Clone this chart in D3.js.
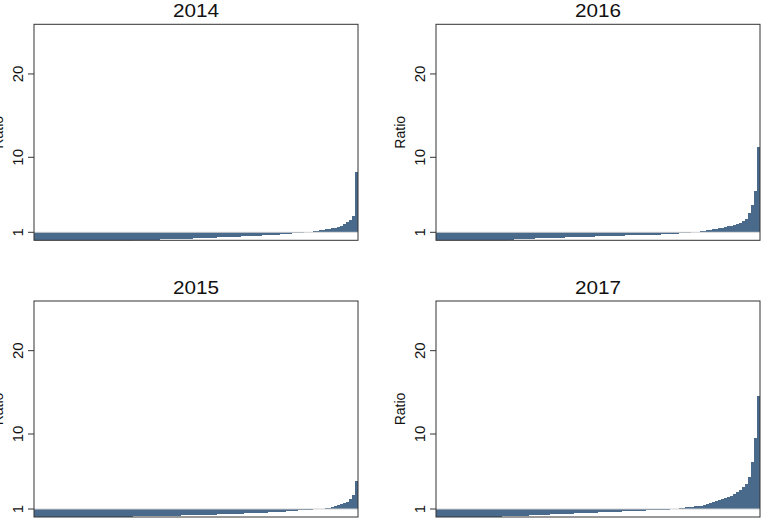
<!DOCTYPE html>
<html>
<head>
<meta charset="utf-8">
<script src="https://cdn.jsdelivr.net/npm/d3@7"></script>
<style>
  body { margin: 0; background: #fff; }
  svg { display: block; font-family: "Liberation Sans", Arial, sans-serif; }
</style>
</head>
<body>
<svg id="chart" width="766" height="528"></svg>
<script>
// sorted ratios per year (one value per bar)
const years = ["2014", "2016", "2015", "2017"];
const yTicks = [1, 10, 20];

const ratio2014 = [
  0,0,0,0,0,0,0,0,0,0,0,0,0,0,0,0,0,0,0,0,0,0,0,0,0,0,0,0,0,0,0,0,0,
  0.08,0.08,0.1,0.1,0.11,0.12,0.12,0.13,0.13,0.14,0.14,0.15,0.17,0.18,0.2,0.21,
  0.22,0.23,0.24,0.25,0.26,0.27,0.28,0.3,0.31,0.33,0.35,0.36,0.38,0.39,0.41,0.43,
  0.44,0.46,0.47,0.49,0.5,0.52,0.54,0.56,0.58,0.6,0.61,0.63,0.65,0.67,0.68,0.7,
  0.72,0.74,0.77,0.8,0.83,0.86,0.89,0.92,0.95,0.98,1.01,1.05,1.12,1.2,1.24,1.28,
  1.34,1.4,1.48,1.56,1.65,1.8,1.95,2.2,2.5,3.0,8.2
];
const ratio2016 = [
  0,0,0,0,0,0,0,0,0,0,0,0,0,0,0,0,0,0,0,0,0,0,0,0,
  0.12,0.13,0.15,0.17,0.18,0.2,0.21,0.23,0.24,0.26,0.27,0.28,0.3,0.31,0.32,0.33,
  0.35,0.36,0.37,0.38,0.39,0.4,0.42,0.43,0.44,0.45,0.46,0.47,0.49,0.5,0.51,0.52,
  0.53,0.54,0.56,0.57,0.58,0.6,0.61,0.62,0.63,0.64,0.65,0.66,0.67,0.68,0.69,0.7,
  0.71,0.72,0.73,0.75,0.76,0.78,0.8,0.82,0.85,0.88,0.91,0.94,0.97,0.99,1.01,1.04,
  1.1,1.2,1.25,1.3,1.36,1.42,1.5,1.57,1.62,1.7,1.78,1.85,1.95,2.1,2.3,2.65,
  3.3,4.3,6.0,11.2
];
const ratio2015 = [
  0,0,0,0,0,0,0,0,0,0,0,0,0,0,0,0,0,0,0,0,0,0,
  0.05,0.06,0.06,0.07,0.07,0.08,0.08,0.09,0.09,0.1,0.1,0.11,0.11,0.12,0.12,0.13,
  0.13,0.14,0.14,0.15,0.16,0.17,0.18,0.19,0.2,0.21,0.22,0.23,0.24,0.25,0.26,0.27,
  0.28,0.29,0.3,0.31,0.32,0.33,0.34,0.35,0.36,0.38,0.39,0.4,0.41,0.43,0.44,0.45,
  0.47,0.48,0.5,0.51,0.52,0.54,0.55,0.57,0.59,0.61,0.63,0.65,0.68,0.7,0.73,0.75,
  0.78,0.8,0.83,0.85,0.88,0.9,0.92,0.95,0.97,0.99,1.02,1.1,1.18,1.27,1.36,1.46,
  1.58,1.7,1.85,2.2,2.7,4.4
];
const ratio2017 = [
  0,0,0,0,0,0,0,0,0,0,0,0,0,0,0,0,0,
  0.06,0.07,0.08,0.09,0.1,0.11,0.12,0.13,0.15,0.16,0.18,0.19,0.2,0.22,0.24,0.26,
  0.28,0.3,0.31,0.33,0.34,0.36,0.37,0.39,0.4,0.42,0.43,0.45,0.46,0.48,0.49,0.51,
  0.52,0.54,0.55,0.57,0.58,0.59,0.61,0.62,0.64,0.65,0.67,0.69,0.7,0.72,0.73,0.75,
  0.76,0.78,0.79,0.81,0.82,0.84,0.85,0.87,0.88,0.9,0.91,0.92,0.94,0.96,0.98,1.0,
  1.1,1.18,1.22,1.26,1.3,1.33,1.36,1.42,1.5,1.58,1.68,1.8,1.92,2.08,2.2,2.3,
  2.45,2.6,2.75,3.0,3.3,3.6,4.0,4.8,6.6,9.5,14.6
];

const svg = d3.select("#chart");
const barColor = "#4a6a8c";

// panel boxes in pixel space (2 x 2 grid, filled column by column in the original)
const plotW = 324, plotH = 216;
const panels = [
  { title: years[0], values: ratio2014, left: 34,  top: 24.3 },
  { title: years[1], values: ratio2016, left: 436, top: 24.3 },
  { title: years[2], values: ratio2015, left: 34,  top: 301 },
  { title: years[3], values: ratio2017, left: 436, top: 301 }
];

// R-style ylim c(1, 25) with 4% padding
const y = d3.scaleLinear().domain([0.04, 25.96]).range([plotH, 0]);

panels.forEach((p, k) => {
    const g = svg.append("g").attr("transform", `translate(${p.left},${p.top})`);

    const x = d3.scaleBand()
        .domain(d3.range(p.values.length))
        .range([0, plotW])
        .padding(0);

    g.append("clipPath").attr("id", "clip" + k)
        .append("rect").attr("width", plotW).attr("height", plotH);

    // bars hang from the ratio = 1 line
    g.append("g").attr("clip-path", `url(#clip${k})`)
        .selectAll("rect")
        .data(p.values)
        .join("rect")
        .attr("x", (d, i) => x(i))
        .attr("width", x.bandwidth() + 0.3)
        .attr("y", d => Math.min(y(1), y(d)))
        .attr("height", d => Math.abs(y(d) - y(1)))
        .attr("fill", barColor)
        .attr("shape-rendering", "crispEdges");

    g.append("line")
        .attr("x1", 0).attr("x2", plotW)
        .attr("y1", y(1)).attr("y2", y(1))
        .attr("stroke", "#d2d2d2")
        .attr("stroke-width", 1);

    // y axis: short ticks, labels parallel to the axis
    const axis = g.append("g");
    yTicks.forEach(t => {
        axis.append("line")
            .attr("x1", -6).attr("x2", 0)
            .attr("y1", y(t)).attr("y2", y(t))
            .attr("stroke", "#333");
        axis.append("text")
            .attr("transform", `translate(-11.5,${y(t)}) rotate(-90)`)
            .attr("text-anchor", "middle")
            .style("font-size", "15px")
            .style("fill", "#111")
            .text(t);
    });

    g.append("text")
        .attr("transform", `translate(-31,${plotH / 2}) rotate(-90)`)
        .attr("text-anchor", "middle")
        .style("font-size", "14px")
        .style("fill", "#111")
        .text("Ratio");

    g.append("rect")
        .attr("width", plotW).attr("height", plotH)
        .attr("fill", "none")
        .attr("stroke", "#333")
        .attr("stroke-width", 1);

    g.append("text")
        .attr("transform", `translate(${plotW / 2},-7) scale(1.15,1)`)
        .attr("text-anchor", "middle")
        .style("font-size", "18px")
        .style("fill", "#111")
        .text(p.title);
});
</script>
</body>
</html>
